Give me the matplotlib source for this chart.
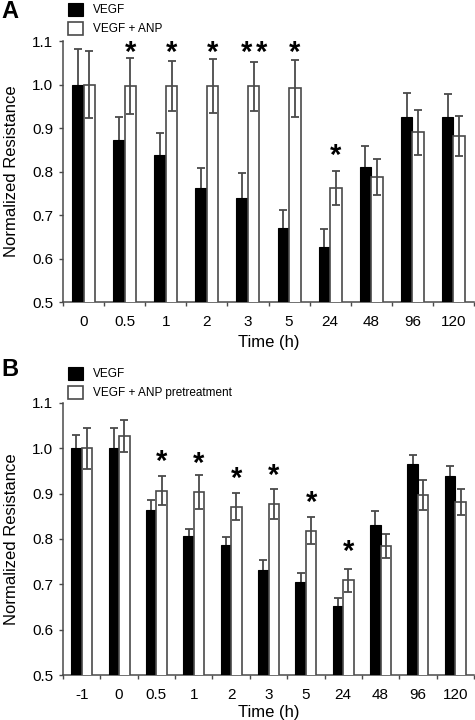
import numpy as np
import matplotlib
matplotlib.use('Agg')
import matplotlib.pyplot as plt

plt.rcParams['font.family'] = ['Liberation Sans', 'DejaVu Sans']

# panel A
times_a = ['0', '0.5', '1', '2', '3', '5', '24', '48', '96', '120']
vegf_a = [1.0, 0.872, 0.838, 0.763, 0.740, 0.670, 0.627, 0.811, 0.925, 0.925]
vegf_a_err = [0.082, 0.054, 0.051, 0.044, 0.056, 0.041, 0.041, 0.047, 0.056, 0.054]
anp_a = [1.0, 0.996, 0.996, 0.996, 0.996, 0.991, 0.762, 0.787, 0.890, 0.882]
anp_a_err = [0.076, 0.064, 0.058, 0.062, 0.056, 0.065, 0.040, 0.041, 0.051, 0.046]
stars_a = ['', '*', '*', '*', '**', '*', '*', '', '', '']
star_y_a = [0, 1.082, 1.082, 1.082, 1.082, 1.082, 0.846, 0, 0, 0]

# panel B
times_b = ['-1', '0', '0.5', '1', '2', '3', '5', '24', '48', '96', '120']
vegf_b = [1.0, 1.0, 0.864, 0.806, 0.786, 0.732, 0.706, 0.652, 0.831, 0.965, 0.938]
vegf_b_err = [0.028, 0.045, 0.021, 0.017, 0.019, 0.022, 0.019, 0.018, 0.030, 0.019, 0.022]
anp_b = [1.0, 1.026, 0.906, 0.904, 0.871, 0.877, 0.818, 0.709, 0.784, 0.897, 0.881]
anp_b_err = [0.045, 0.035, 0.032, 0.037, 0.030, 0.034, 0.030, 0.025, 0.026, 0.033, 0.029]
stars_b = ['', '', '*', '*', '*', '*', '*', '*', '', '', '']
star_y_b = [0, 0, 0.978, 0.974, 0.941, 0.947, 0.888, 0.780, 0, 0, 0]

W, H = 475, 720
fig = plt.figure(figsize=(W / 100, H / 100), dpi=100)
edge = '#4a4a4a'


def panel(rect, times, y1, e1, y2, e2, stars, star_y, label2, letter, letter_top, leg_top, xlabelpad):
    ax = fig.add_axes(rect)
    n = len(times)
    ind = np.arange(n)
    width = 0.28
    ax.bar(ind - width / 2, y1, width, color='black', edgecolor='black', linewidth=0.8,
           zorder=3, label='VEGF')
    ax.errorbar(ind - width / 2, y1, yerr=e1, fmt='none', ecolor=edge, elinewidth=1.3,
                capsize=3, capthick=1.3, zorder=2)
    ax.bar(ind + width / 2, y2, width, color='white', edgecolor=edge, linewidth=1.2,
           zorder=3, label=label2)
    ax.errorbar(ind + width / 2, y2, yerr=e2, fmt='none', ecolor=edge, elinewidth=1.3,
                capsize=3, capthick=1.3, zorder=4)

    # significance asterisks over the white bars (a double one is spread out a little)
    for i, s in enumerate(stars):
        for k, ch in enumerate(s):
            dx = (k - (len(s) - 1) / 2) * 11
            ax.annotate(ch, (ind[i] + width / 2, star_y[i]), xytext=(dx, -3),
                        textcoords='offset points', ha='center', va='center',
                        fontsize=21, fontweight='bold', zorder=5)

    ax.set_xlim(-0.5, n - 0.5)
    ax.set_ylim(0.5, 1.1)
    ax.set_yticks(np.arange(0.5, 1.11, 0.1))
    ax.set_yticklabels([f'{v:.1f}' for v in np.arange(0.5, 1.11, 0.1)])
    ax.set_xticks(np.arange(-0.5, n, 1.0))
    ax.set_xticklabels([])
    ax.set_xticks(ind, minor=True)
    ax.set_xticklabels(times, minor=True)
    ax.tick_params(axis='x', which='minor', length=0, pad=9, labelsize=11)
    ax.tick_params(axis='both', which='major', length=3, width=1, color=edge, labelsize=11, pad=4)

    for side in ['top', 'right']:
        ax.spines[side].set_visible(False)
    for side in ['left', 'bottom']:
        ax.spines[side].set_color(edge)
        ax.spines[side].set_linewidth(1.1)

    ax.set_xlabel('Time (h)', fontsize=12, labelpad=xlabelpad)
    ax.set_ylabel('Normalized Resistance', fontsize=12)
    ax.yaxis.set_label_coords(-0.107, 0.5)

    ax.legend(loc='upper left', bbox_to_anchor=(68 / W, leg_top), bbox_transform=fig.transFigure,
              frameon=False, fontsize=8.5, handlelength=1.3, handleheight=1.3,
              handletextpad=0.8, labelspacing=0.45, borderpad=0, borderaxespad=0)

    fig.text(1 / W, letter_top, letter, fontsize=17, fontweight='bold', ha='left', va='top')
    return ax


left = 63 / W
width_ax = 411 / W
panel([left, 1 - 302 / H, width_ax, 261 / H], times_a, vegf_a, vegf_a_err, anp_a, anp_a_err,
      stars_a, star_y_a, 'VEGF + ANP', 'A', 1.0, 1 - 3 / H, 5)
panel([left, 1 - 675.3 / H, width_ax, 272.6 / H], times_b, vegf_b, vegf_b_err, anp_b, anp_b_err,
      stars_b, star_y_b, 'VEGF + ANP pretreatment', 'B', 1 - 358 / H, 1 - 367 / H, 2)

fig.savefig('out.png', dpi=100)
